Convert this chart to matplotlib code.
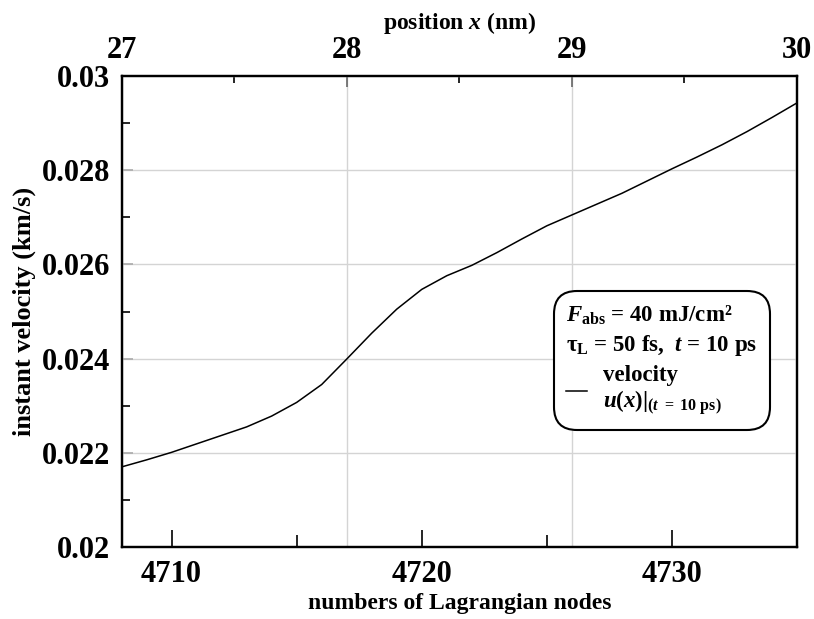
import numpy as np
import matplotlib
matplotlib.use("Agg")
import matplotlib.pyplot as plt
from matplotlib.lines import Line2D
from matplotlib.ticker import FixedLocator, MultipleLocator

plt.rcParams["font.family"] = ["Liberation Serif", "DejaVu Serif"]
plt.rcParams["font.weight"] = "bold"
plt.rcParams["axes.labelweight"] = "bold"
plt.rcParams["mathtext.fontset"] = "custom"
plt.rcParams["mathtext.rm"] = "Liberation Serif:bold"
plt.rcParams["mathtext.it"] = "Liberation Serif:italic:bold"
plt.rcParams["mathtext.bf"] = "Liberation Serif:bold"

# velocity profile along the Lagrangian nodes at t = 10 ps
nodes = np.arange(4708, 4736)
velocity = [0.02170, 0.02185, 0.02201, 0.02219, 0.02237, 0.02255, 0.02278,
            0.02307, 0.02345, 0.02399, 0.02454, 0.02505, 0.02547, 0.02576,
            0.02598, 0.02625, 0.02654, 0.02682, 0.02705, 0.02728, 0.02751,
            0.02777, 0.02803, 0.02828, 0.02854, 0.02882, 0.02912, 0.02943]

node_ticks = [4710, 4720, 4730]
pos_ticks = [27, 28, 29, 30]
v_ticks = [0.020, 0.022, 0.024, 0.026, 0.028, 0.030]
v_labels = ["0.02", "0.022", "0.024", "0.026", "0.028", "0.03"]

fig = plt.figure(figsize=(8.14, 6.19), dpi=100)
ax = fig.add_axes([0.1493, 0.1163, 0.8299, 0.7609])

grid_c = "#d4d4d4"
ax.plot(nodes, velocity, color="black", lw=1.1, zorder=3)
ax.set_xlim(4708, 4735)
ax.set_ylim(0.02, 0.03)

ax.set_yticks(v_ticks)
ax.set_yticklabels(v_labels)
ax.yaxis.set_minor_locator(MultipleLocator(0.001))
ax.set_xticks(node_ticks)
ax.xaxis.set_minor_locator(FixedLocator([4715, 4725]))
ax.grid(axis="y", color=grid_c, lw=1.0)

ax.tick_params(axis="y", which="major", direction="in", length=7.7, width=1.2,
               color="#aaaaaa", labelsize=22, pad=8, right=False)
ax.tick_params(axis="y", which="minor", direction="in", length=5.8, width=1.2,
               color="black", right=False)
ax.tick_params(axis="x", which="major", direction="in", length=12, width=1.2,
               color="black", labelsize=22, pad=9, top=False)
ax.tick_params(axis="x", which="minor", direction="in", length=8.6, width=1.2,
               color="black", top=False)
for s in ax.spines.values():
    s.set_linewidth(1.6)

ax.set_xlabel("numbers of Lagrangian nodes", fontsize=17, labelpad=3)
ax.set_ylabel("instant velocity (km/s)", fontsize=19, labelpad=4)

# position axis on top: 9 nodes per nm, node 4708 at x = 27 nm
top = ax.twiny()
top.set_xlim(27, 30)
top.set_xticks(pos_ticks)
top.xaxis.set_minor_locator(MultipleLocator(0.5))
top.grid(axis="x", color=grid_c, lw=1.0)
top.tick_params(axis="x", which="major", direction="in", length=7.7, width=1.2,
                color="#666666", labelsize=22, pad=8)
top.tick_params(axis="x", which="minor", direction="in", length=5, width=1.2,
                color="black")
top.set_xlabel(r"position $x$ (nm)", fontsize=17, labelpad=5)
top.set_zorder(0)
ax.set_zorder(1)
ax.patch.set_visible(False)
for s in top.spines.values():
    s.set_linewidth(1.6)

handle = Line2D([], [], color="black", lw=1.1)
leg = ax.legend([handle],
                ["velocity\n" + r"$u(x)|_{(\mathit{t}\ \mathrm{=\ 10\ ps})}$"],
                title=r"$\mathit{F}_{\mathrm{abs}}$ = 40 mJ/cm²" + "\n"
                      + r"τ$_{\mathrm{L}}$ = 50 fs,  $\mathit{t}$ = 10 ps",
                loc="upper left", bbox_to_anchor=(0.633, 0.553),
                alignment="left", fontsize=16.5, title_fontsize=16.5,
                handlelength=0.9, handletextpad=0.7, borderpad=0.25,
                labelspacing=0.3,
                frameon=True, fancybox=True, framealpha=1, edgecolor="black")
leg.get_title().set_linespacing(1.35)
for t in leg.get_texts():
    t.set_linespacing(1.1)
leg.get_frame().set_linewidth(1.5)
leg.get_frame().set_boxstyle("round,pad=0.3,rounding_size=1.0")

fig.savefig("out.png", dpi=100)
